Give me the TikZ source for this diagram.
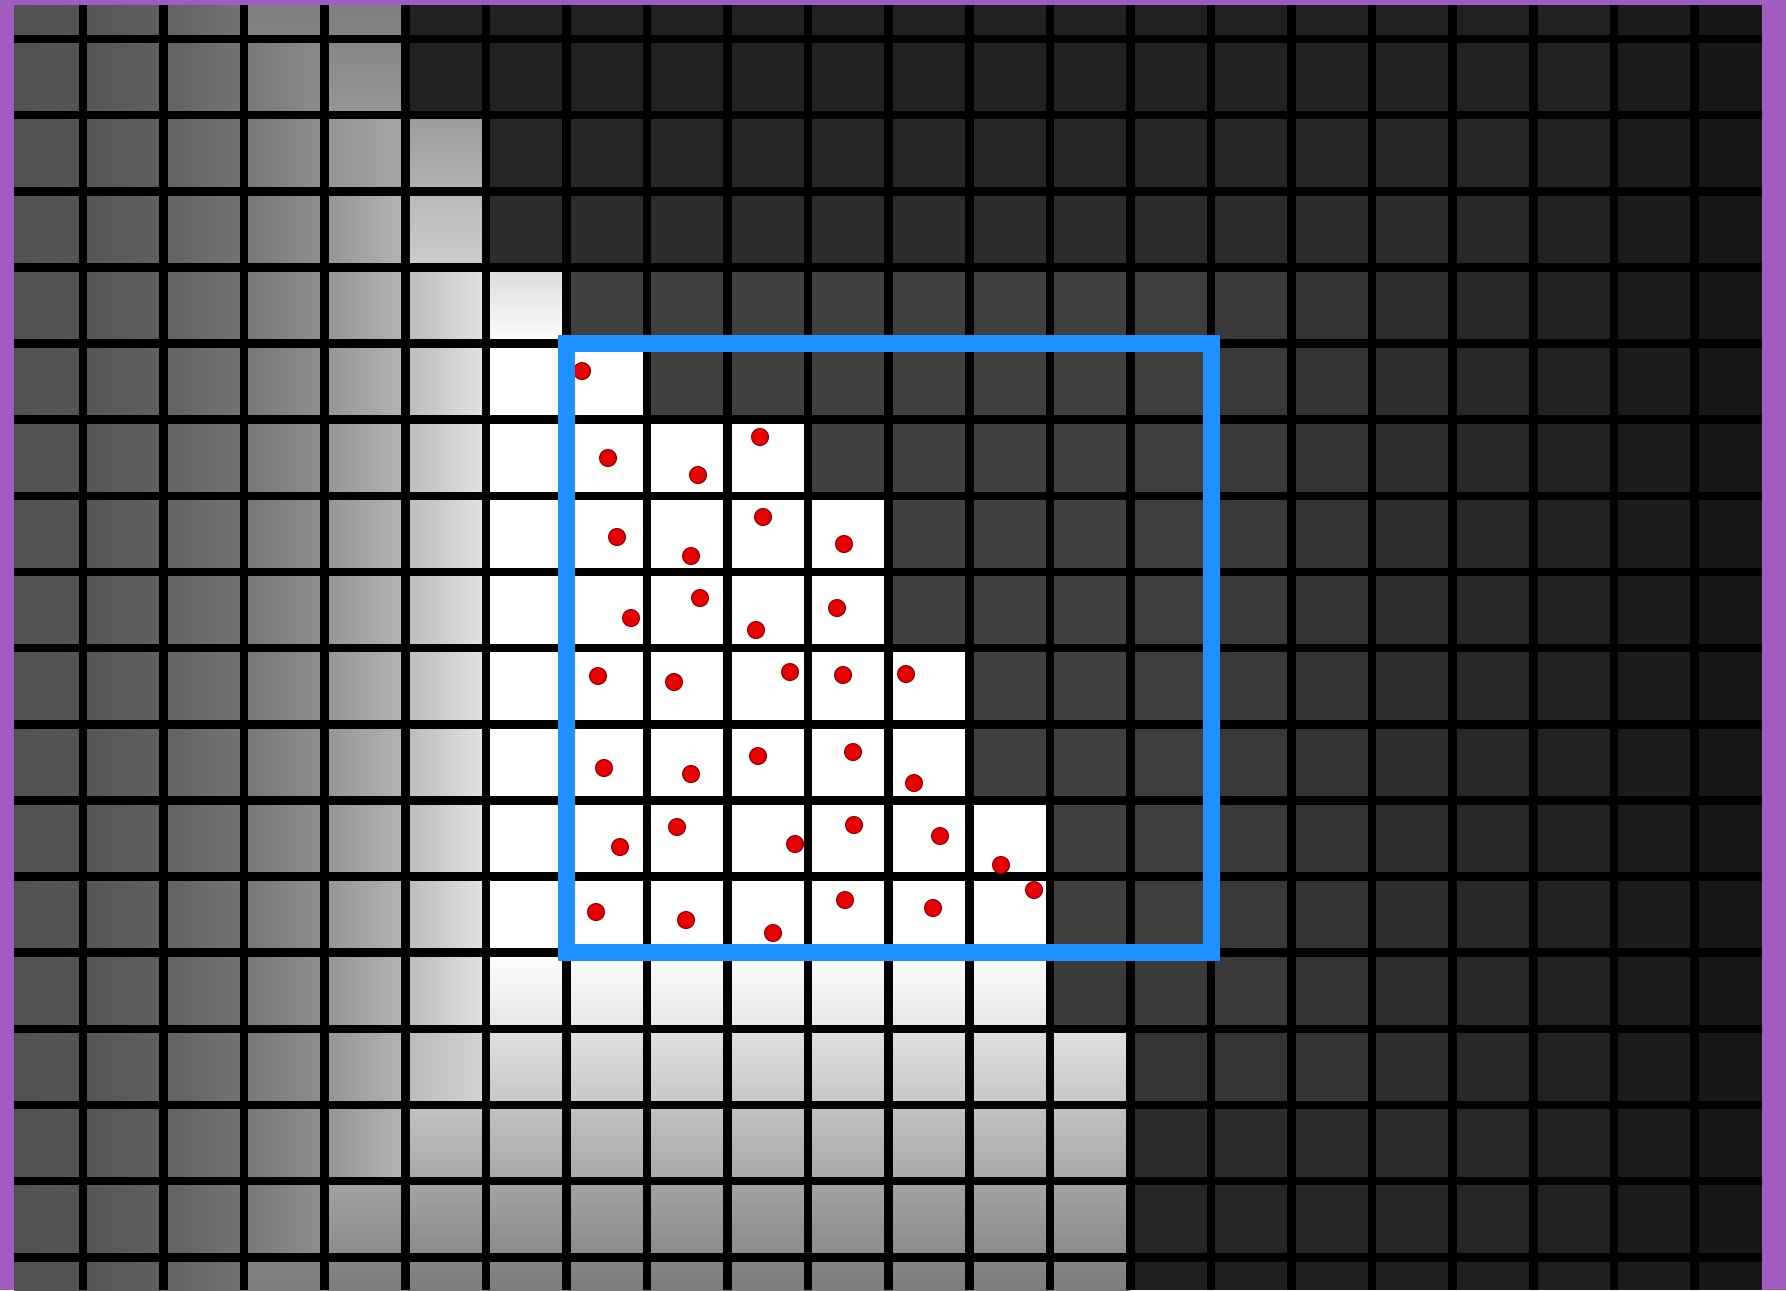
\documentclass[tikz,border=0pt]{standalone}
\usepackage{tikz}

\definecolor{framepurple}{RGB}{161,92,192}
\definecolor{boxblue}{RGB}{30,144,255}
\definecolor{dotred}{RGB}{232,0,0}
\definecolor{dotedge}{RGB}{140,0,0}

\tikzset{
  gridline/.style={black, line width=0.085cm},
  scanbox/.style={draw=boxblue, line width=0.17cm},
  sampledot/.style={fill=dotred, draw=dotedge, line width=0.3pt},
  declare function={
    gridx(\k)=83+80.57*\k;
    gridy(\k)=39+76.14*\k;
    lighth(\x)=min(1,0.32+0.68*((max(\x,14)-14)/510)^2);
    lightv(\y)=ifthenelse(\y<340,0.5+0.5*pow(max(\y,1)/340,1.5),ifthenelse(\y>957,max(0.45,1-0.00155*(\y-957)),1));
    darkh(\x)=ifthenelse(\x<1150,0.25,0.25-0.00027*(\x-1150));
    darkv(\y)=ifthenelse(\y<267,0.13+0.055*(\y/267)^2,ifthenelse(\y>940,0.25-0.00038*(\y-940),0.25));
  }
}

\begin{document}
\begin{tikzpicture}[x=0.01cm, y=-0.01cm]

% ================================================================
% Canvas: 1786 x 1290 px, y grows downwards
% ================================================================
\useasboundingbox (0,0) rectangle (1786,1290);
\clip (0,0) rectangle (1786,1290);

% ================================================================
% Pixel cells: column / first lit row of that column
% ================================================================
\foreach \c/\lit in {0/0,1/0,2/0,3/0,4/0,5/2,6/4,7/5,8/6,9/6,10/7,11/9,12/11,13/14,
                     14/99,15/99,16/99,17/99,18/99,19/99,20/99,21/99} {
  \foreach \r in {0,...,17} {
    \pgfmathsetmacro\xl{max(gridx(\c-1),14)}
    \pgfmathsetmacro\xr{min(gridx(\c),1762)}
    \pgfmathsetmacro\yt{max(gridy(\r-1),5)}
    \pgfmathsetmacro\yb{min(gridy(\r),1290)}
    \pgfmathsetmacro\xm{(\xl+\xr)/2}
    \pgfmathsetmacro\ym{(\yt+\yb)/2}
    \ifnum\r<\lit
      % dark background cell
      \pgfmathsetmacro\pd{100*min(darkh(\xm),darkv(\ym))}
      \fill[white!\pd!black] (\xl,\yt) rectangle (\xr,\yb);
    \else
      % lit cell
      \pgfmathsetmacro\hm{lighth(\xm)}
      \pgfmathsetmacro\vm{lightv(\ym)}
      \ifdim\hm pt<\vm pt
        \pgfmathsetmacro\pa{100*min(lighth(\xl+5),\vm)}
        \pgfmathsetmacro\pb{100*min(lighth(\xr-5),\vm)}
        \shade[left color=white!\pa!black, right color=white!\pb!black]
          (\xl,\yt) rectangle (\xr,\yb);
      \else
        \pgfmathsetmacro\pa{100*min(lightv(\yt+5),\hm)}
        \pgfmathsetmacro\pb{100*min(lightv(\yb-5),\hm)}
        \shade[top color=white!\pa!black, bottom color=white!\pb!black]
          (\xl,\yt) rectangle (\xr,\yb);
      \fi
    \fi
  }
}

% ================================================================
% Black grid lines
% ================================================================
\foreach \k in {0,...,20} {
  \draw[gridline] ({gridx(\k)},0) -- ({gridx(\k)},1290);
}
\foreach \k in {0,...,16} {
  \draw[gridline] (0,{gridy(\k)}) -- (1786,{gridy(\k)});
}

% ================================================================
% Sample points
% ================================================================
\foreach \px/\py in {582/371, 608/458, 698/475, 760/437, 617/537, 691/556,
                     763/517, 844/544, 631/618, 700/598, 756/630, 837/608,
                     598/676, 674/682, 790/672, 843/675, 906/674, 604/768,
                     691/774, 758/756, 853/752, 914/783, 620/847, 677/827,
                     795/844, 854/825, 940/836, 1001/865, 1034/890, 596/912,
                     686/920, 773/933, 845/900, 933/908} {
  \filldraw[sampledot] (\px,\py) circle[radius=0.085cm];
}

% ================================================================
% Window (8 x 8 cells)
% ================================================================
\draw[scanbox] ({gridx(6)},{gridy(4)}) rectangle ({gridx(14)},{gridy(12)});

% ================================================================
% Frame
% ================================================================
\fill[framepurple] (0,0) rectangle (14,1290);
\fill[framepurple] (0,0) rectangle (1786,5);
\fill[framepurple] (1762,0) rectangle (1786,1290);

\end{tikzpicture}
\end{document}
